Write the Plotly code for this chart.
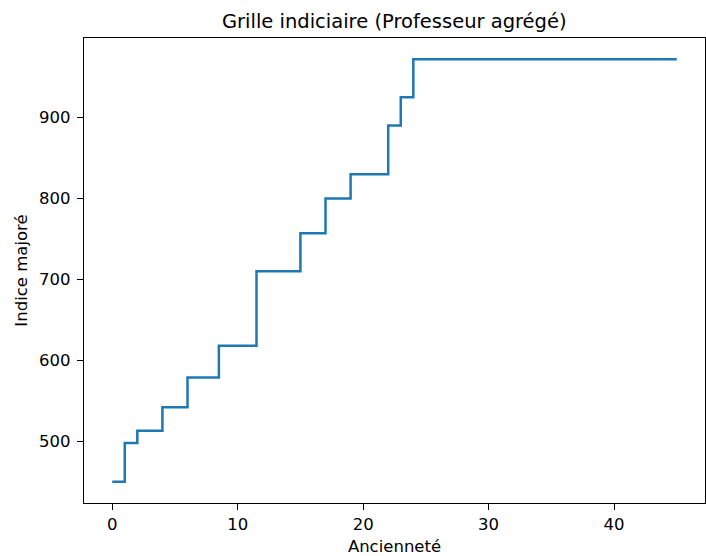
import plotly.graph_objects as go

anciennete = [0, 1, 2, 4, 6, 8.5, 11.5, 15, 17, 19, 22, 23, 24, 45]
indice = [450, 498, 513, 542, 579, 618, 710, 757, 800, 830, 890, 925, 972, 972]

fig = go.Figure()
fig.add_trace(go.Scatter(x=anciennete, y=indice, mode="lines",
                         line=dict(shape="hv", color="#1f77b4", width=2.5)))

axis_common = dict(showgrid=False, zeroline=False, showline=True, linecolor="black",
                   linewidth=1.3, mirror=True, ticks="outside", ticklen=6, tickwidth=1.3,
                   tickcolor="black", tickfont=dict(size=16.5, color="black"),
                   automargin=False)

fig.update_layout(
    width=706, height=556,
    margin=dict(l=84, r=1, t=38, b=53),
    paper_bgcolor="white", plot_bgcolor="white",
    font=dict(family="DejaVu Sans", color="black", size=16.5),
    title=dict(text="Grille indiciaire (Professeur agrégé)", x=0.5585, xanchor="center",
               y=0.962, yanchor="middle", font=dict(size=19.5)),
    showlegend=False,
    xaxis=dict(range=[-2.25, 47.25], tickvals=[0, 10, 20, 30, 40],
               title=dict(text="Ancienneté", standoff=8, font=dict(size=16.5)), **axis_common),
    yaxis=dict(range=[423.9, 998.1], tickvals=[500, 600, 700, 800, 900],
               ticklabelstandoff=3,
               title=dict(text="Indice majoré", standoff=7, font=dict(size=16.5)), **axis_common),
)

fig.write_html("out.html", config={"displayModeBar": False},
               post_script="document.body.style.margin='0';document.body.style.overflow='hidden';")
